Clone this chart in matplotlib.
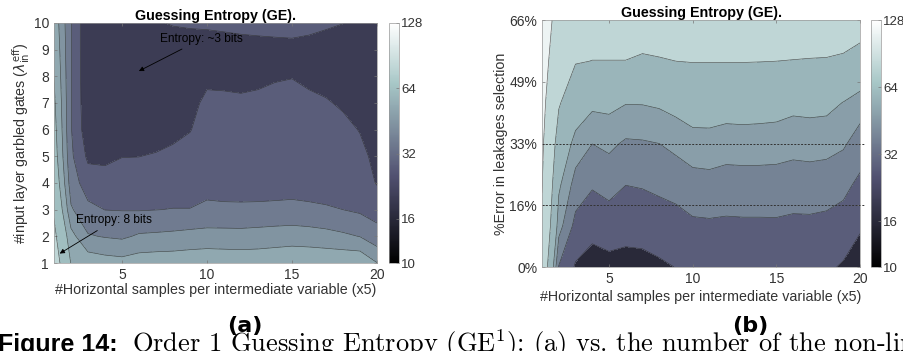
"""Guessing-entropy contour maps (Figure 14 a/b).

Left: GE vs. horizontal samples and number of input-layer garbled gates.
Right: GE vs. horizontal samples and error rate in the leakage selection.
"""

import matplotlib

matplotlib.use("Agg")
import matplotlib.pyplot as plt
import numpy as np
from matplotlib import colors as mcolors
from matplotlib.cm import ScalarMappable
from matplotlib.ticker import NullLocator

# ---------------------------------------------------------------- data
SAMPLES = list(range(1, 21))          # horizontal samples per variable (x5)

# panel (a): one row per number of garbled gates (1 .. 10), bottom to top
GATES = list(range(1, 11))
GE_GATES = [
    [90, 61.5, 57.2, 55.6, 54.8, 56.3, 56.8, 56.9, 57.3, 58.1, 57.5, 57.2, 57.2, 57.8, 58.7, 58.5, 58.4, 58.6, 58.7, 52.2],
    [84, 55, 44.7, 43.5, 42.7, 45.0, 45.4, 45.9, 46.7, 46.8, 46.9, 46.8, 47.3, 47.8, 48.1, 47.7, 46.8, 45.4, 43.8, 39],
    [78, 45, 38.0, 35.9, 35.7, 35.6, 35.9, 36.2, 36.2, 38.0, 37.5, 37.4, 37.5, 37.8, 38.2, 37.5, 36.8, 36.0, 34.7, 33],
    [72, 40, 32, 31.7, 32, 32.3, 32.5, 32.5, 32.5, 32.5, 32.5, 32.5, 32.5, 32.5, 32.5, 32.5, 32.5, 32.5, 32.5, 27.5],
    [68, 37.5, 26.5, 26, 27.8, 27.9, 28.7, 31.3, 31.5, 32, 32, 32, 32, 32.5, 32.5, 32.5, 32, 32, 31, 25],
    [66, 36.5, 23, 24, 24, 24, 24, 24, 27.6, 32, 32, 32, 32, 33, 33, 32.5, 32, 31, 27.5, 24],
    [64, 36.5, 22, 23, 23, 23, 23.5, 23.5, 24, 31, 30.5, 30, 31, 33, 33, 31, 29, 26.5, 25, 24],
    [62, 36.5, 21.5, 22.5, 22.5, 22.5, 23, 23, 23.5, 25, 25, 24.5, 25, 26.5, 27.5, 25, 24, 24, 24, 24],
    [60, 36.5, 21, 22.5, 23, 23.5, 24, 25, 25, 25, 25, 25, 25, 25, 25, 25, 25, 25, 24.5, 24],
    [58, 36.5, 21, 23, 23.5, 24.5, 27.5, 28.4, 28.8, 29.0, 29.5, 30.2, 30.8, 31.4, 32, 30.5, 29, 28.1, 26, 25],
]

# panel (b): one row per error rate in the leakage selection (%), bottom to top
ERROR_PCT = [0, 11, 22, 33, 44, 55, 66]
GE_ERROR = [
    [100, 37.5, 27, 24, 25, 24.5, 25, 26.5, 28.2, 31, 31, 31, 31, 31, 31, 30.5, 30.5, 29.5, 27, 22],
    [108, 52, 34.8, 31.1, 32.9, 31.6, 31.8, 33.1, 34.2, 36.2, 36.5, 36.2, 36.4, 36.4, 36.5, 35.9, 35.9, 35.3, 33.6, 29.4],
    [113, 60, 44.0, 39.0, 41.3, 38.1, 38.7, 40.0, 41.4, 44.2, 44.8, 43.8, 44.0, 44.0, 43.9, 43.0, 43.4, 42.7, 40.7, 35.7],
    [116, 70, 53.9, 48.1, 50.2, 46.6, 47.0, 48.0, 50.7, 53.3, 53.5, 52.4, 52.6, 52.5, 52.2, 51.3, 51.7, 51.3, 49.3, 43.5],
    [120, 82, 66.9, 60.8, 61.2, 58.6, 58.7, 59.8, 62.1, 65.4, 65.5, 64.0, 64.4, 63.9, 63.3, 61.3, 61.8, 61.3, 57.8, 52.8],
    [125, 92, 81.0, 79.8, 79.8, 79.8, 78.2, 79.1, 80, 80.5, 80.5, 80.5, 80.5, 80.3, 80, 79.7, 79.4, 79.2, 78.1, 72.0],
    [130, 100, 88, 88, 88, 88, 88, 88, 88, 88, 88, 88, 88, 88, 88, 88, 88, 88, 88, 90],
]

LEVELS_GATES = [20, 28, 36, 44, 52, 62, 80, 128]
LEVELS_ERROR = [16, 28, 38, 48, 58, 80, 112, 140]
ERROR_TICKS = [0, 16.5, 33, 49.5, 66]
ERROR_TICKLABELS = ["0%", "16%", "33%", "49%", "66%"]
THRESHOLDS = [16.5, 33]
CBAR_TICKS = [10, 16, 32, 64, 128]

# ---------------------------------------------------------------- style
CMAP = plt.get_cmap("bone")
NORM = mcolors.LogNorm(vmin=10, vmax=128)
TXT = "#333333"
SANS = ["Liberation Sans", "DejaVu Sans"]
FS = 10.3

plt.rcParams["font.family"] = SANS
plt.rcParams["font.size"] = FS


def draw_panel(fig, rect, cbar_rect, y, z, levels):
    ax = fig.add_axes(rect)
    fills = [CMAP(NORM(lv)) for lv in levels[:-1]]
    ax.contourf(SAMPLES, y, np.array(z), levels=levels, colors=fills)
    ax.contour(SAMPLES, y, np.array(z), levels=levels[1:-1],
               colors="#2e2e2e", linewidths=0.45, alpha=0.8)
    ax.set_xlim(1, 20)
    ax.set_xticks([5, 10, 15, 20])
    ax.tick_params(direction="in", top=True, right=True, length=2.5,
                   width=0.5, colors="#777777", labelcolor=TXT, labelsize=10)
    for s in ax.spines.values():
        s.set_color("#999999")
        s.set_linewidth(0.5)
    ax.set_title("Guessing Entropy (GE).", fontweight="bold", fontsize=FS,
                 pad=2, color="black")
    ax.set_xlabel("#Horizontal samples per intermediate variable (x5)",
                  fontsize=FS, color=TXT, labelpad=1)

    cax = fig.add_axes(cbar_rect)
    cb = fig.colorbar(ScalarMappable(norm=NORM, cmap=CMAP), cax=cax,
                      ticks=CBAR_TICKS)
    cb.ax.yaxis.set_minor_locator(NullLocator())
    cb.ax.set_yticklabels([str(t) for t in CBAR_TICKS])
    cb.ax.tick_params(direction="in", length=2, width=0.5, colors="#777777",
                      labelcolor=TXT, labelsize=9.5, pad=1.5)
    cb.outline.set_edgecolor("#999999")
    cb.outline.set_linewidth(0.5)
    return ax


def main() -> None:
    fig = plt.figure(figsize=(9.04, 3.51), dpi=100)

    # (a) garbled gates
    ax = draw_panel(fig, [0.0597, 0.2507, 0.3573, 0.6838],
                    [0.4303, 0.2507, 0.0111, 0.6838],
                    GATES, GE_GATES, LEVELS_GATES)
    ax.set_ylim(1, 10)
    ax.set_yticks(GATES)
    ax.set_ylabel(r"#input layer garbled gates ($\lambda^{\mathrm{eff}}_{\mathrm{in}}$)",
                  fontsize=FS, color=TXT, labelpad=1)
    arrow = dict(arrowstyle="-|>", color="black", lw=0.6, mutation_scale=7)
    ax.annotate("Entropy: ~3 bits", xy=(5.85, 8.15), xytext=(7.25, 9.4),
                fontsize=8.6, va="center", arrowprops=arrow)
    ax.annotate("Entropy: 8 bits", xy=(1.2, 1.3), xytext=(2.3, 2.6),
                fontsize=8.6, va="center", arrowprops=arrow)

    # (b) error in leakages selection
    ax = draw_panel(fig, [0.5996, 0.2393, 0.3518, 0.7037],
                    [0.9635, 0.2393, 0.0111, 0.7037],
                    ERROR_PCT, GE_ERROR, LEVELS_ERROR)
    ax.set_ylim(0, 66)
    ax.set_yticks(ERROR_TICKS)
    ax.set_yticklabels(ERROR_TICKLABELS)
    ax.set_ylabel("%Error in leakages selection", fontsize=FS, color=TXT,
                  labelpad=1)
    ax.xaxis.labelpad = 3
    for t in THRESHOLDS:
        ax.plot([1, 20.3], [t, t], ls=(0, (2, 1.5)), color="#333333",
                lw=0.7, clip_on=False)

    # sub-figure labels and the (cropped) caption line
    sub = dict(fontsize=16, fontweight="bold", ha="center", va="center",
               family=["Liberation Sans Narrow", "DejaVu Sans"])
    fig.text(245 / 904, 1 - 326 / 351, "(a)", **sub)
    fig.text(750 / 904, 1 - 326 / 351, "(b)", **sub)
    base = 1 - 352 / 351
    fig.text(-2 / 904, base, "Figure 14:", fontsize=18, fontweight="bold",
             va="baseline", ha="left", family=SANS)
    fig.text(132 / 904, base,
             r"Order 1 Guessing Entropy (GE$^1$): (a) vs. the number of the non-linear gates",
             fontsize=19, va="baseline", ha="left",
             family=["cmr10", "DejaVu Serif"], math_fontfamily="cm")

    fig.savefig("out.png", dpi=100)
    plt.close(fig)


if __name__ == "__main__":
    main()
